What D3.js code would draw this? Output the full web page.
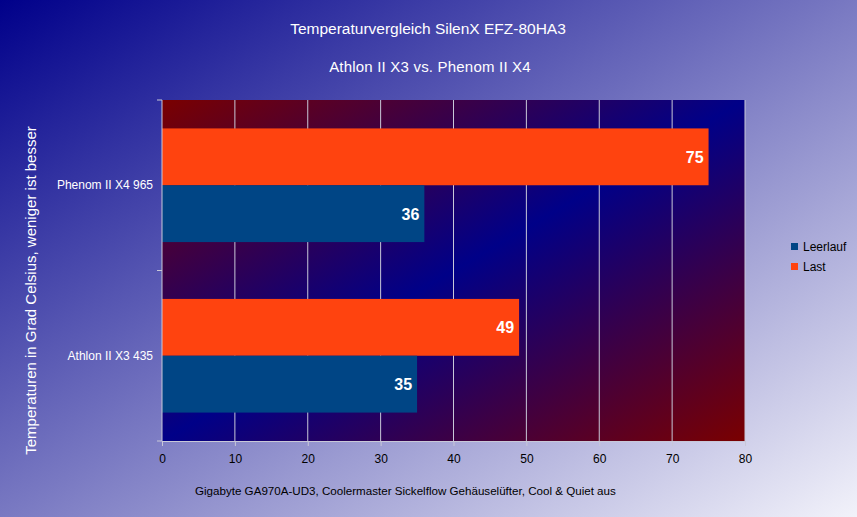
<!DOCTYPE html>
<html>
<head>
<meta charset="utf-8">
<script src="https://cdn.jsdelivr.net/npm/d3@7"></script>
<style>
  body { margin: 0; }
  text { font-family: "Liberation Sans", Arial, sans-serif; }
</style>
</head>
<body>
<div id="chart"></div>
<script>
const categories = ["Phenom II X4 965", "Athlon II X3 435"];
const seriesNames = ["Last", "Leerlauf"];
const lastValues = [75, 49];
const idleValues = [36, 35];
const xTicks = [0, 10, 20, 30, 40, 50, 60, 70, 80];
const colors = { "Leerlauf": "#004585", "Last": "#ff430f" };

const svgWidth = 857, svgHeight = 517;
const margin = { top: 100, right: 112, bottom: 76, left: 162 };
const width = svgWidth - margin.left - margin.right;
const height = svgHeight - margin.top - margin.bottom;

const svg = d3.select("#chart").append("svg")
    .attr("width", svgWidth)
    .attr("height", svgHeight);

const defs = svg.append("defs");
const bg = defs.append("linearGradient").attr("id", "bg")
    .attr("x1", "0").attr("y1", "0").attr("x2", "1").attr("y2", "1");
bg.append("stop").attr("offset", "0").attr("stop-color", "#00008a");
bg.append("stop").attr("offset", "1").attr("stop-color", "#f2f2fa");

// plot area: red corners top-left / bottom-right, blue along the other diagonal
const pg = defs.append("linearGradient").attr("id", "plotbg")
    .attr("x1", "0").attr("y1", "0").attr("x2", "1").attr("y2", "1");
pg.append("stop").attr("offset", "0").attr("stop-color", "#7a0000");
pg.append("stop").attr("offset", "0.5").attr("stop-color", "#000088");
pg.append("stop").attr("offset", "1").attr("stop-color", "#7a0000");

svg.append("rect").attr("width", svgWidth).attr("height", svgHeight).attr("fill", "url(#bg)");

svg.append("text").attr("x", 428).attr("y", 34).attr("text-anchor", "middle")
    .attr("fill", "#fff").style("font-size", "15.5px").text("Temperaturvergleich SilenX EFZ-80HA3");
svg.append("text").attr("x", 430).attr("y", 72).attr("text-anchor", "middle")
    .attr("fill", "#fff").style("font-size", "15px").style("letter-spacing", "0.2px")
    .text("Athlon II X3 vs. Phenom II X4");

const g = svg.append("g")
    .attr("transform", "translate(" + margin.left + "," + margin.top + ")");

const x = d3.scaleLinear().domain([0, 80]).range([0, width]);
const y = d3.scaleBand().domain(categories).range([0, height]).paddingInner(1 / 3).paddingOuter(1 / 6);
const y1 = d3.scaleBand().domain(seriesNames).range([0, y.bandwidth()]);

g.append("rect").attr("width", width).attr("height", height).attr("fill", "url(#plotbg)");

// grid
g.selectAll(".grid").data(xTicks.slice(1)).enter().append("line")
    .attr("x1", d => x(d)).attr("x2", d => x(d))
    .attr("y1", 0).attr("y2", height)
    .attr("stroke", "#c8c8d8").attr("stroke-width", 1);

const rows = categories.map((c, i) => ({ cat: c, vals: [
    { name: "Last", v: lastValues[i] },
    { name: "Leerlauf", v: idleValues[i] }
] }));

const grp = g.selectAll(".grp").data(rows).enter().append("g")
    .attr("transform", d => "translate(0," + y(d.cat) + ")");

grp.selectAll("rect").data(d => d.vals).enter().append("rect")
    .attr("x", 0).attr("y", d => y1(d.name))
    .attr("width", d => x(d.v)).attr("height", y1.bandwidth())
    .attr("fill", d => colors[d.name]);

grp.selectAll(".lbl").data(d => d.vals).enter().append("text")
    .attr("x", d => x(d.v) - 5).attr("y", d => y1(d.name) + y1.bandwidth() / 2 + 6)
    .attr("text-anchor", "end").attr("fill", "#fff")
    .style("font-size", "16px").style("font-weight", "bold")
    .text(d => d.v);

// x axis
const xAxis = g.append("g").attr("transform", "translate(0," + height + ")")
    .call(d3.axisBottom(x).tickValues(xTicks).tickSizeInner(5).tickSizeOuter(0).tickPadding(8));
xAxis.select(".domain").attr("stroke", "#c8c8d8");
xAxis.selectAll(".tick line").attr("stroke", "#c8c8d8");
xAxis.selectAll("text").attr("fill", "#000").style("font-size", "12px")
    .style("font-family", "'Liberation Sans', Arial, sans-serif");

// y axis: ticks at band boundaries
const yAxisG = g.append("g");
yAxisG.append("line").attr("x1", 0).attr("x2", 0).attr("y1", 0).attr("y2", height).attr("stroke", "#c8c8d8");
const boundaries = [0, (y(categories[0]) + y.bandwidth() + y(categories[1])) / 2, height];
yAxisG.selectAll(".yt").data(boundaries).enter().append("line")
    .attr("x1", -5).attr("x2", 0).attr("y1", d => d).attr("y2", d => d).attr("stroke", "#c8c8d8");
yAxisG.selectAll(".ylab").data(categories).enter().append("text")
    .attr("x", -9).attr("y", d => y(d) + y.bandwidth() / 2 + 4)
    .attr("text-anchor", "end").attr("fill", "#fff").style("font-size", "12px")
    .text(d => d);

svg.append("text")
    .attr("transform", "translate(36," + (margin.top + height / 2 + 20) + ") rotate(-90)")
    .attr("text-anchor", "middle").attr("fill", "#fff").style("font-size", "15px")
    .text("Temperaturen in Grad Celsius, weniger ist besser");

svg.append("text").attr("x", 195).attr("y", 495)
    .attr("fill", "#000").style("font-size", "11.6px")
    .text("Gigabyte GA970A-UD3, Coolermaster Sickelflow Gehäuselüfter, Cool & Quiet aus");

// legend
const legend = svg.append("g").attr("transform", "translate(791,243)");
["Leerlauf", "Last"].forEach((n, i) => {
    legend.append("rect").attr("x", 0).attr("y", i * 20).attr("width", 7).attr("height", 7).attr("fill", colors[n]);
    legend.append("text").attr("x", 12).attr("y", i * 20 + 8).attr("fill", "#000").style("font-size", "12px").text(n);
});
</script>
</body>
</html>
